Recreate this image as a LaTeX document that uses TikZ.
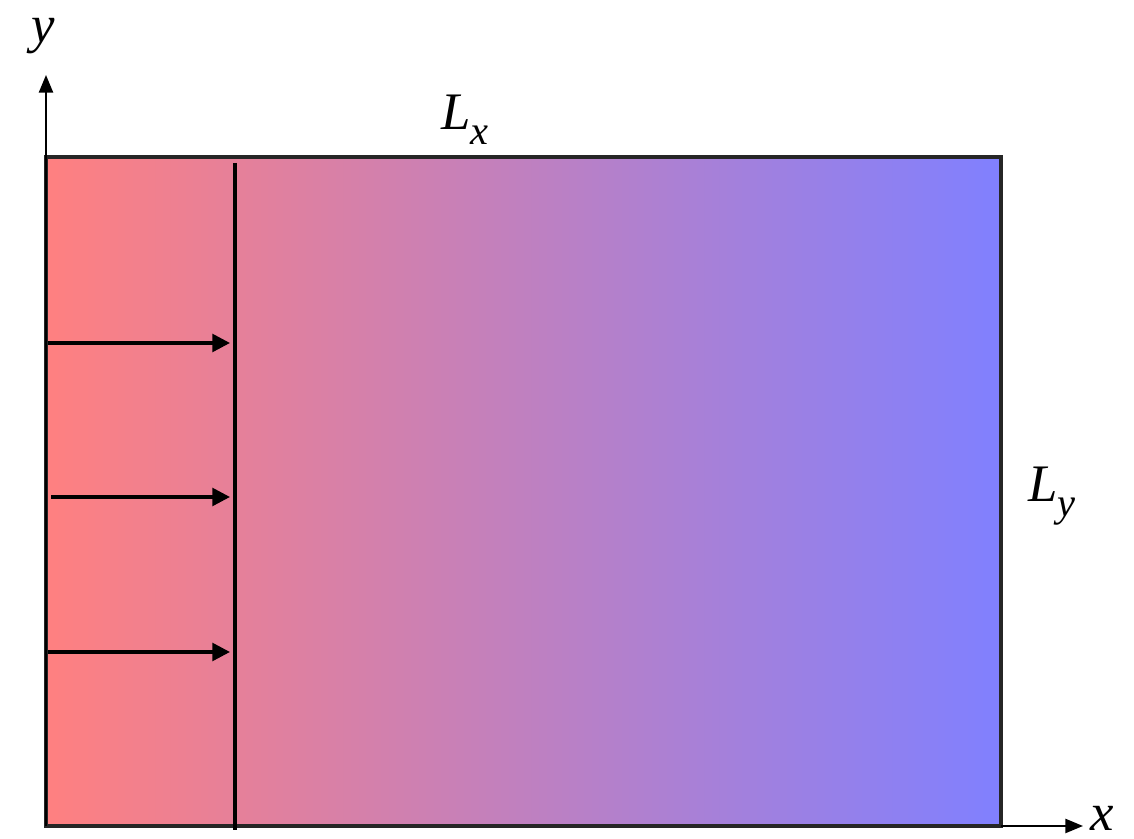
\documentclass[tikz,border=0pt]{standalone}
\usepackage{fontspec}
\setmainfont{Liberation Serif}
\usetikzlibrary{arrows.meta, positioning, calc}
\definecolor{hotside}{RGB}{255,128,128}
\definecolor{coldside}{RGB}{128,128,255}
\tikzset{
  % Axis lines with triangle heads
  axisline/.style={-{Triangle[length=10pt, width=8pt]}, line width=1.1pt, black},
  % Inflow arrows
  flowarrow/.style={-{Triangle[length=10pt, width=10pt]}, line width=2pt, black},
  frontline/.style={line width=2.4pt, black},
  varlabel/.style={font=\fontsize{30}{36}\selectfont\itshape, inner sep=0pt}
}
\newcommand{\varsub}[2]{#1\raisebox{-0.28em}{\fontsize{23}{26}\selectfont #2}}

\begin{document}
\begin{tikzpicture}
  \useasboundingbox (0,0) rectangle (22.68,16.78);

  % Domain with temperature shading
  \shade[left color=hotside, right color=coldside] (0.92,0.26) rectangle (20.02,13.64);
  \draw[line width=1.8pt, black!85] (0.92,0.26) rectangle (20.02,13.64);

  % Axes
  \coordinate (origin) at (0.92,0.26);
  \coordinate (ytip) at (0.92,15.28);
  \coordinate (xtip) at (21.66,0.26);
  \draw[axisline] (origin) -- (ytip);
  \draw[axisline] (20.02,0.26) -- (xtip);
  \node[varlabel] (ylab) at (0.86,16.05) {y};
  \node[varlabel] (xlab) at (22.05,0.42) {x};

  % Dimension labels
  \node[varlabel] (lx) at (9.3,14.38) {\varsub{L}{x}};
  \node[varlabel] (ly) at (21.04,6.86) {\varsub{L}{y}};

  % Front
  \coordinate (ftop) at (4.7,13.52);
  \coordinate (fbot) at (4.7,0.18);
  \draw[frontline] (ftop) -- (fbot);

  % Inflow arrows
  \foreach \i/\yy/\xs in {1/9.92/0.96, 2/6.84/1.02, 3/3.74/0.96} {
    \coordinate (in\i) at (\xs,\yy);
    \coordinate (hit\i) at (4.6,\yy);
    \draw[flowarrow] (in\i) -- (hit\i);
  }
\end{tikzpicture}
\end{document}
